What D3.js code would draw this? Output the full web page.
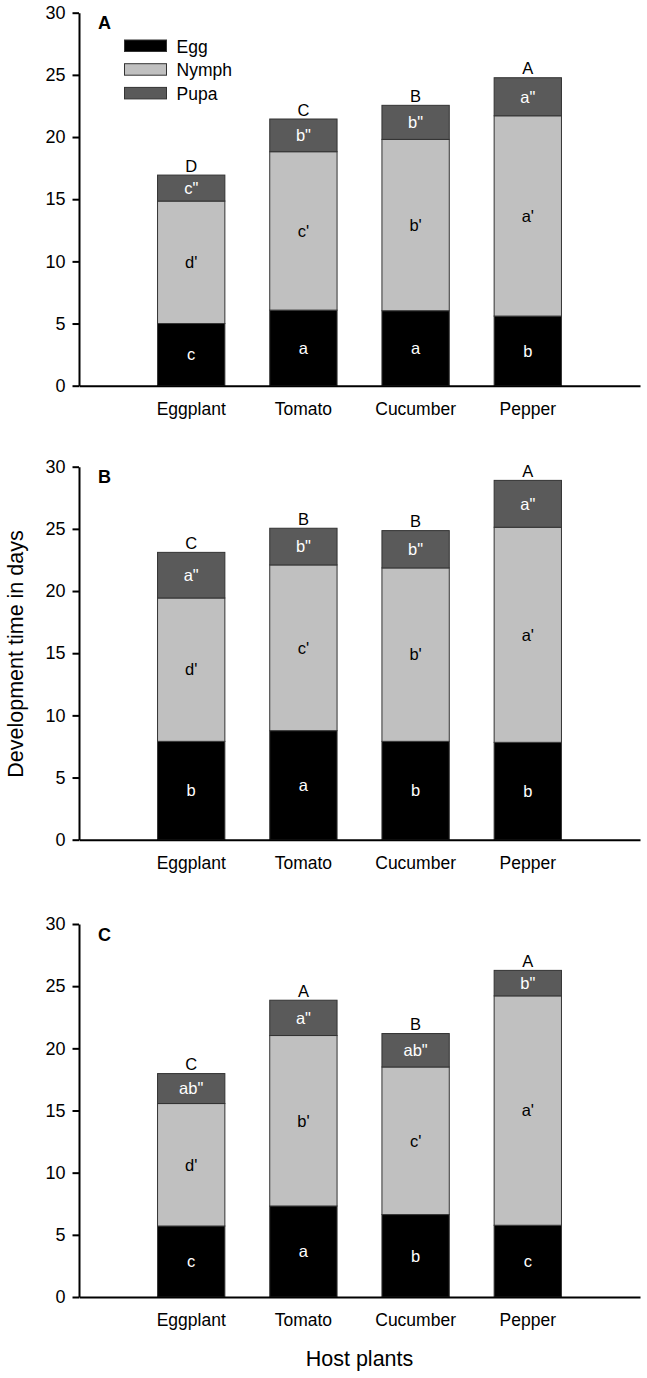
<!DOCTYPE html>
<html><head><meta charset="utf-8">
<script src="https://cdn.jsdelivr.net/npm/d3@7"></script>
<style>
body{margin:0;background:#fff;}
svg{display:block;font-family:"Liberation Sans",Arial,sans-serif;}
</style></head>
<body>
<svg id="chart" width="647" height="1378"></svg>
<script>
const categories = ["Eggplant","Tomato","Cucumber","Pepper"];
const stages = ["Egg","Nymph","Pupa"];
const yTicks = [0,5,10,15,20,25,30];
const panelNames = ["A","B","C"];

// Durations (days) per stage
const eggA = [5.0, 6.08, 6.03, 5.6];
const nymphA = [9.85, 12.74, 13.78, 16.11];
const pupaA = [2.09, 2.63, 2.74, 3.06];
const eggB = [7.91, 8.77, 7.91, 7.83];
const nymphB = [11.53, 13.33, 13.95, 17.3];
const pupaB = [3.67, 2.95, 3.0, 3.77];
const eggC = [5.71, 7.32, 6.63, 5.77];
const nymphC = [9.85, 13.71, 11.87, 18.45];
const pupaC = [2.41, 2.84, 2.69, 2.05];

// Significance letters
const eggLetA = ["c","a","a","b"];
const nymphLetA = ["d'","c'","b'","a'"];
const pupaLetA = ["c\"","b\"","b\"","a\""];
const totalLetA = ["D","C","B","A"];
const eggLetB = ["b","a","b","b"];
const nymphLetB = ["d'","c'","b'","a'"];
const pupaLetB = ["a\"","b\"","b\"","a\""];
const totalLetB = ["C","B","B","A"];
const eggLetC = ["c","a","b","c"];
const nymphLetC = ["d'","b'","c'","a'"];
const pupaLetC = ["ab\"","a\"","ab\"","b\""];
const totalLetC = ["C","A","B","A"];

const panels = [
  {name:"A", vals:[eggA,nymphA,pupaA], lets:[eggLetA,nymphLetA,pupaLetA], tot:totalLetA, top:12.7},
  {name:"B", vals:[eggB,nymphB,pupaB], lets:[eggLetB,nymphLetB,pupaLetB], tot:totalLetB, top:466.7},
  {name:"C", vals:[eggC,nymphC,pupaC], lets:[eggLetC,nymphLetC,pupaLetC], tot:totalLetC, top:924}
];

const colors = {Egg:"#000000", Nymph:"#c0c0c0", Pupa:"#5a5a5a"};
const labelColors = {Egg:"#ffffff", Nymph:"#000000", Pupa:"#ffffff"};

const svg = d3.select("#chart");
const left = 79, right = 640, ph = 373;

const x = d3.scaleBand().domain(categories).range([left, right]).paddingInner(0.4).paddingOuter(0.7);

panels.forEach(p => {
  const y = d3.scaleLinear().domain([0,30]).range([p.top + ph, p.top]);
  const g = svg.append("g");

  const rows = categories.map((c,i) => {
    const o = {cat:c};
    stages.forEach((s,k) => o[s] = p.vals[k][i]);
    return o;
  });
  const series = d3.stack().keys(stages)(rows);

  series.forEach((ser,k) => {
    const key = ser.key;
    g.selectAll(null).data(ser).join("rect")
      .attr("x", d => x(d.data.cat))
      .attr("width", x.bandwidth())
      .attr("y", d => y(d[1]))
      .attr("height", d => y(d[0]) - y(d[1]))
      .attr("fill", colors[key])
      .attr("stroke", "#333")
      .attr("stroke-width", 1);
    g.selectAll(null).data(ser).join("text")
      .attr("x", d => x(d.data.cat) + x.bandwidth()/2)
      .attr("y", d => (y(d[0]) + y(d[1]))/2)
      .attr("dy", "0.35em")
      .attr("text-anchor", "middle")
      .attr("font-size", 16.5)
      .attr("fill", labelColors[key])
      .text((d,i) => p.lets[k][i]);
  });

  // total letters
  const topSer = series[series.length-1];
  g.selectAll(null).data(topSer).join("text")
    .attr("x", d => x(d.data.cat) + x.bandwidth()/2)
    .attr("y", d => y(d[1]) - 3.5)
    .attr("text-anchor", "middle")
    .attr("font-size", 16.5)
    .attr("fill", "#000")
    .text((d,i) => p.tot[i]);

  // x axis
  const xa = g.append("g").attr("transform", `translate(0,${y(0)})`)
    .call(d3.axisBottom(x).tickSize(0).tickPadding(16.5));
  xa.select(".domain").attr("stroke","#000").attr("stroke-width",2);
  xa.selectAll("text").attr("font-size",17.5).attr("fill","#000").attr("font-family","Liberation Sans,Arial,sans-serif");

  // y axis
  const ya = g.append("g").attr("transform", `translate(${left},0)`)
    .call(d3.axisLeft(y).tickValues(yTicks).tickSizeInner(6.5).tickSizeOuter(0).tickPadding(7));
  ya.select(".domain").attr("stroke","#000").attr("stroke-width",2);
  ya.selectAll(".tick line").attr("stroke","#000").attr("stroke-width",2);
  ya.selectAll("text").attr("font-size",18).attr("fill","#000").attr("font-family","Liberation Sans,Arial,sans-serif");

  // panel letter
  g.append("text").attr("x", 98).attr("y", p.top + 16.5)
    .attr("font-size", 18).attr("font-weight","bold").text(p.name);
});

// legend
const lg = svg.append("g");
stages.forEach((s,i) => {
  const yy = 40 + i*23.7;
  lg.append("rect").attr("x",124.5).attr("y",yy).attr("width",42).attr("height",11.5)
    .attr("fill",colors[s]).attr("stroke","#333").attr("stroke-width",1);
  lg.append("text").attr("x",176.5).attr("y",yy+12.7).attr("font-size",17.5).text(s);
});

// axis titles
svg.append("text").attr("transform","translate(23,654) rotate(-90)")
  .attr("text-anchor","middle").attr("font-size",21.5).text("Development time in days");
svg.append("text").attr("x",359.5).attr("y",1366).attr("text-anchor","middle")
  .attr("font-size",21.5).text("Host plants");
</script>
</body></html>
